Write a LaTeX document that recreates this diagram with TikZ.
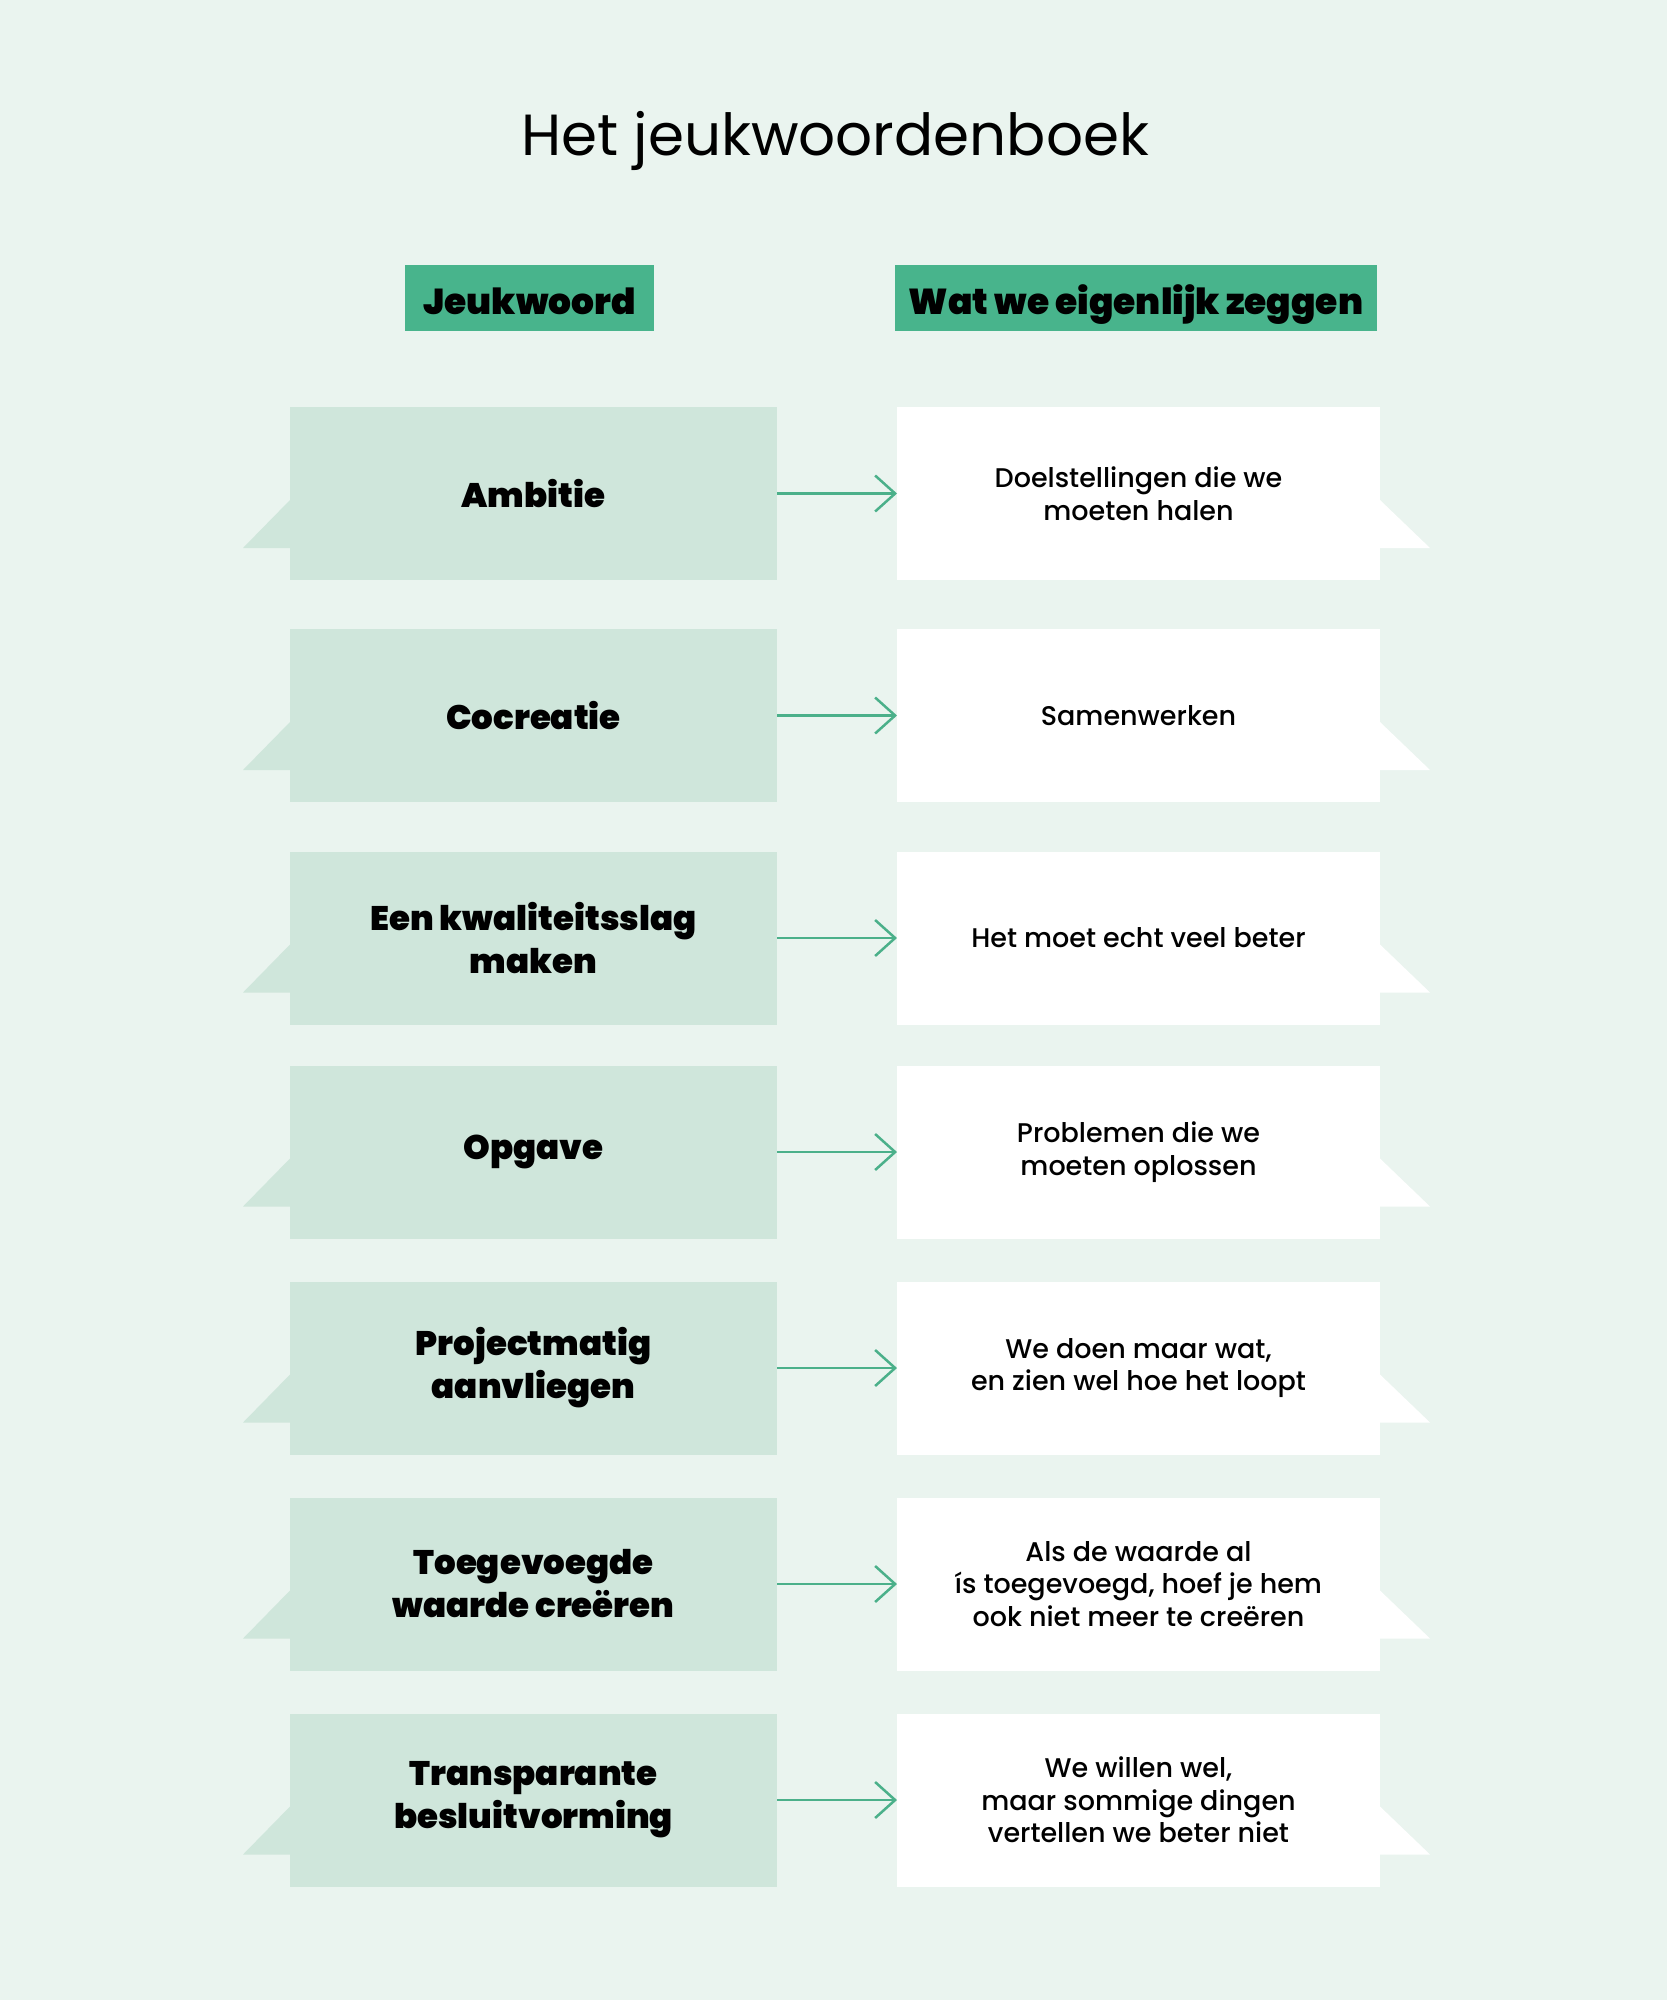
\documentclass[tikz,border=0pt]{standalone}
\usepackage{fontspec}
\usetikzlibrary{arrows.meta}
\setmainfont{Poppins}
\newfontfamily\titelfont{Poppins}
\newfontfamily\zwaarfont{Poppins Black}
\newfontfamily\middelfont{Poppins Medium}
\definecolor{achtergrond}{HTML}{EAF4EF}
\definecolor{koptekstgroen}{HTML}{48B48C}
\definecolor{lichtgroen}{HTML}{CFE6DB}
\definecolor{pijlgroen}{HTML}{4BB08A}
\tikzset{
  kop/.style={fill=koptekstgroen,minimum height=66pt,inner sep=0pt,outer sep=0pt,
    text height=38pt,text depth=6pt,font=\zwaarfont\fontsize{36}{40}\selectfont},
  woord/.style={fill=lichtgroen,minimum width=487pt,minimum height=173pt,inner sep=0pt,
    outer sep=0pt,align=center,font=\zwaarfont\fontsize{34}{43}\selectfont},
  uitleg/.style={fill=white,minimum width=483pt,minimum height=173pt,inner sep=0pt,
    outer sep=0pt,align=center,font=\middelfont\fontsize{27}{32.5}\selectfont},
  pijl/.style={draw=pijlgroen,line width=2.5pt,
    -{Straight Barb[length=20pt,width=36pt,line width=2.5pt]}}
}
\begin{document}
\begin{tikzpicture}[x=1pt,y=-1pt]
  \useasboundingbox (0,0) rectangle (1667,2000);
  \fill[achtergrond] (0,0) rectangle (1667,2000);
  % titel en koppen
  \node[anchor=base,font=\titelfont\fontsize{58}{60}\selectfont] (titel) at (835,155) {Het jeukwoordenboek};
  \node[kop,minimum width=249pt] (kopwoord) at (529.5,298) {Jeukwoord};
  \node[kop,minimum width=482pt] (kopuitleg) at (1136,298) {Wat we eigenlijk zeggen};
  % rijen
  \foreach \woord/\uitleg/\ym [count=\i from 0] in {
      Ambitie/{Doelstellingen die we\\moeten halen}/493.5,
      Cocreatie/Samenwerken/715.5,
      {Een kwaliteitsslag\\maken}/{Het moet echt veel beter}/938,
      Opgave/{Problemen die we\\moeten oplossen}/1152,
      {Projectmatig\\aanvliegen}/{We doen maar wat,\\en zien wel hoe het loopt}/1368,
      {Toegevoegde\\waarde creëren}/{Als de waarde al\\ís toegevoegd, hoef je hem\\ook niet meer te creëren}/1584,
      {Transparante\\besluitvorming}/{We willen wel,\\maar sommige dingen\\vertellen we beter niet}/1800} {
    \fill[lichtgroen] (290,\ym+6.5) -- (243,\ym+54.5) -- (290,\ym+54.5) -- cycle;
    \fill[white] (1380,\ym+6.5) -- (1430,\ym+54.5) -- (1380,\ym+54.5) -- cycle;
    \node[woord] (kw\i) at (533.5,\ym) {\woord};
    \node[uitleg] (bet\i) at (1138.5,\ym) {\uitleg};
    \draw[pijl] (kw\i) -- (bet\i);
  }
\end{tikzpicture}
\end{document}
